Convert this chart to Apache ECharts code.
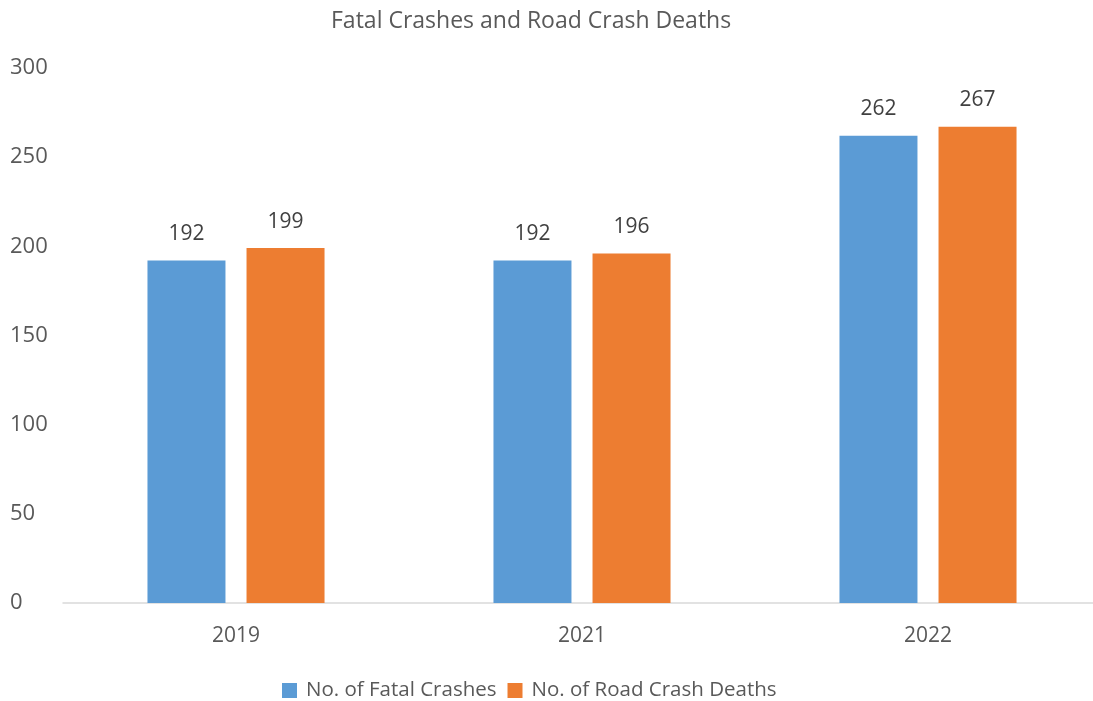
<!DOCTYPE html>
<html>
<head>
<meta charset="utf-8">
<script src="https://cdn.jsdelivr.net/npm/echarts@6/dist/echarts.min.js"></script>
<style>
  html, body { margin: 0; padding: 0; background: #fff; }
  #chart { width: 1093px; height: 701px; }
</style>
</head>
<body>
<div id="chart"></div>
<script>
// chart data
const years = ['2019', '2021', '2022'];
const fatalCrashes = [192, 192, 262];
const crashDeaths = [199, 196, 267];
const seriesNames = ['No. of Fatal Crashes', 'No. of Road Crash Deaths'];

const font = '"Open Sans", sans-serif';
const textColor = '#595959';

const chart = echarts.init(document.getElementById('chart'));

const labelStyle = {
  show: true,
  position: 'top',
  distance: 16,
  color: '#404040',
  fontSize: 21,
  fontFamily: font,
};

chart.setOption({
  animation: false,
  title: {
    text: 'Fatal Crashes and Road Crash Deaths',
    left: 326,
    top: 5,
    textStyle: {
      color: textColor,
      fontSize: 23,
      fontWeight: 'normal',
      fontFamily: font,
    },
  },
  legend: {
    data: seriesNames,
    top: 675,
    left: 277,
    itemWidth: 15,
    itemHeight: 15,
    itemGap: 11,
    icon: 'rect',
    textStyle: {
      color: textColor,
      fontSize: 20.5,
      fontFamily: font,
      padding: [0, 0, 0, 4],
    },
  },
  grid: {
    left: 63,
    right: -8,
    top: 68,
    bottom: 98,
    containLabel: false,
    outerBoundsMode: 'none',
  },
  xAxis: {
    type: 'category',
    data: years,
    axisLine: { lineStyle: { color: '#d9d9d9', width: 1.5 } },
    axisTick: { show: false },
    axisLabel: {
      color: textColor,
      fontSize: 21,
      fontFamily: font,
      margin: 23,
    },
  },
  yAxis: {
    type: 'value',
    min: 0,
    max: 300,
    interval: 50,
    splitLine: { show: false },
    axisLine: { show: false },
    axisTick: { show: false },
    axisLabel: {
      color: textColor,
      fontSize: 22,
      fontFamily: font,
      align: 'left',
      margin: 53,
      padding: [6, 0, 0, 0],
    },
  },
  series: [
    {
      name: seriesNames[0],
      type: 'bar',
      data: fatalCrashes,
      barWidth: 78,
      barGap: '27%',
      itemStyle: { color: '#5B9BD5' },
      label: labelStyle,
    },
    {
      name: seriesNames[1],
      type: 'bar',
      data: crashDeaths,
      barWidth: 78,
      barGap: '27%',
      itemStyle: { color: '#ED7D31' },
      label: labelStyle,
    },
  ],
});
</script>
</body>
</html>
